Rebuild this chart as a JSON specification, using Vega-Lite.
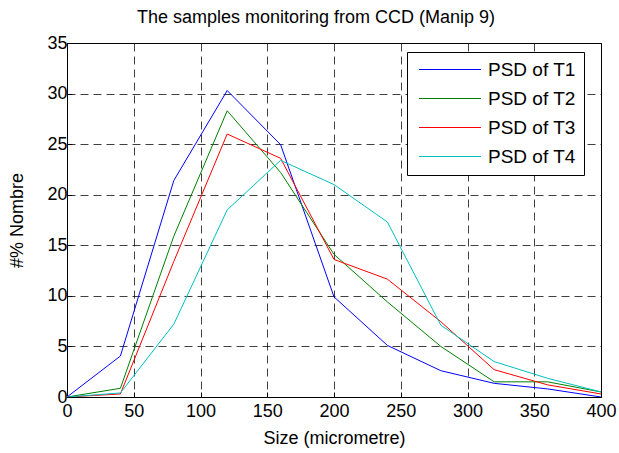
{
  "$schema": "https://vega.github.io/schema/vega-lite/v6.json",
  "width": 534,
  "height": 354,
  "autosize": {"type": "none"},
  "padding": {"left": 67, "top": 43, "right": 18, "bottom": 56},
  "background": "white",
  "title": {
    "text": "The samples monitoring from CCD (Manip 9)",
    "font": "Liberation Sans",
    "fontSize": 18,
    "fontWeight": "normal",
    "color": "black",
    "anchor": "middle",
    "dx": -18,
    "offset": 7
  },
  "config": {
    "view": {"stroke": "black", "strokeWidth": 1},
    "axis": {
      "labelFont": "Liberation Sans",
      "labelFontSize": 18,
      "labelColor": "black",
      "titleFont": "Liberation Sans",
      "titleFontSize": 18,
      "titleFontWeight": "normal",
      "titleColor": "black",
      "domainColor": "black",
      "tickColor": "black",
      "tickSize": -5,
      "gridColor": "black",
      "gridOpacity": 0.75,
      "gridDash": [8, 5],
      "gridWidth": 1
    }
  },
  "data": {
    "values": [
      {"size": 0, "pct": 0, "series": "PSD of T1"},
      {"size": 40, "pct": 4.05, "series": "PSD of T1"},
      {"size": 80, "pct": 21.4, "series": "PSD of T1"},
      {"size": 120, "pct": 30.3, "series": "PSD of T1"},
      {"size": 160, "pct": 24.95, "series": "PSD of T1"},
      {"size": 200, "pct": 9.9, "series": "PSD of T1"},
      {"size": 240, "pct": 5.1, "series": "PSD of T1"},
      {"size": 280, "pct": 2.6, "series": "PSD of T1"},
      {"size": 320, "pct": 1.35, "series": "PSD of T1"},
      {"size": 360, "pct": 0.8, "series": "PSD of T1"},
      {"size": 400, "pct": 0.0, "series": "PSD of T1"},
      {"size": 0, "pct": 0, "series": "PSD of T2"},
      {"size": 40, "pct": 0.86, "series": "PSD of T2"},
      {"size": 80, "pct": 15.9, "series": "PSD of T2"},
      {"size": 120, "pct": 28.3, "series": "PSD of T2"},
      {"size": 160, "pct": 22.2, "series": "PSD of T2"},
      {"size": 200, "pct": 14.1, "series": "PSD of T2"},
      {"size": 240, "pct": 9.4, "series": "PSD of T2"},
      {"size": 280, "pct": 5.0, "series": "PSD of T2"},
      {"size": 320, "pct": 1.5, "series": "PSD of T2"},
      {"size": 360, "pct": 1.5, "series": "PSD of T2"},
      {"size": 400, "pct": 0.5, "series": "PSD of T2"},
      {"size": 0, "pct": 0, "series": "PSD of T3"},
      {"size": 40, "pct": 0.3, "series": "PSD of T3"},
      {"size": 80, "pct": 13.4, "series": "PSD of T3"},
      {"size": 120, "pct": 26.0, "series": "PSD of T3"},
      {"size": 160, "pct": 23.6, "series": "PSD of T3"},
      {"size": 200, "pct": 13.6, "series": "PSD of T3"},
      {"size": 240, "pct": 11.65, "series": "PSD of T3"},
      {"size": 280, "pct": 7.45, "series": "PSD of T3"},
      {"size": 320, "pct": 2.7, "series": "PSD of T3"},
      {"size": 360, "pct": 1.2, "series": "PSD of T3"},
      {"size": 400, "pct": 0.3, "series": "PSD of T3"},
      {"size": 0, "pct": 0, "series": "PSD of T4"},
      {"size": 40, "pct": 0.4, "series": "PSD of T4"},
      {"size": 80, "pct": 7.2, "series": "PSD of T4"},
      {"size": 120, "pct": 18.5, "series": "PSD of T4"},
      {"size": 160, "pct": 23.4, "series": "PSD of T4"},
      {"size": 200, "pct": 21.0, "series": "PSD of T4"},
      {"size": 240, "pct": 17.3, "series": "PSD of T4"},
      {"size": 280, "pct": 7.1, "series": "PSD of T4"},
      {"size": 320, "pct": 3.5, "series": "PSD of T4"},
      {"size": 360, "pct": 1.85, "series": "PSD of T4"},
      {"size": 400, "pct": 0.5, "series": "PSD of T4"}
    ]
  },
  "mark": {"type": "line", "strokeWidth": 1, "clip": true},
  "encoding": {
    "x": {
      "field": "size",
      "type": "quantitative",
      "title": "Size (micrometre)",
      "scale": {"domain": [0, 400], "nice": false, "zero": false},
      "axis": {"values": [0, 50, 100, 150, 200, 250, 300, 350, 400], "labelPadding": 10, "titlePadding": 9, "labelFlush": false, "labelOverlap": false}
    },
    "y": {
      "field": "pct",
      "type": "quantitative",
      "title": "#% Nombre",
      "scale": {"domain": [0, 35], "nice": false},
      "axis": {"values": [0, 5, 10, 15, 20, 25, 30, 35], "labelPadding": 5, "titlePadding": 20, "labelFlush": false, "labelOverlap": false}
    },
    "color": {
      "field": "series",
      "type": "nominal",
      "scale": {
        "domain": ["PSD of T1", "PSD of T2", "PSD of T3", "PSD of T4"],
        "range": ["#0000FF", "#008000", "#FF0000", "#00BFBF"]
      },
      "legend": {
        "title": null,
        "orient": "none",
        "legendX": 340,
        "legendY": 9,
        "symbolType": "M-4,0H4",
        "symbolSize": 240,
        "symbolStrokeWidth": 1,
        "symbolOffset": 25.5,
        "labelFont": "Liberation Sans",
        "labelFontSize": 19,
        "labelColor": "black",
        "labelOffset": 28.5,
        "rowPadding": 9,
        "padding": 8,
        "strokeColor": "black",
        "fillColor": "white",
        "cornerRadius": 0
      }
    }
  }
}
